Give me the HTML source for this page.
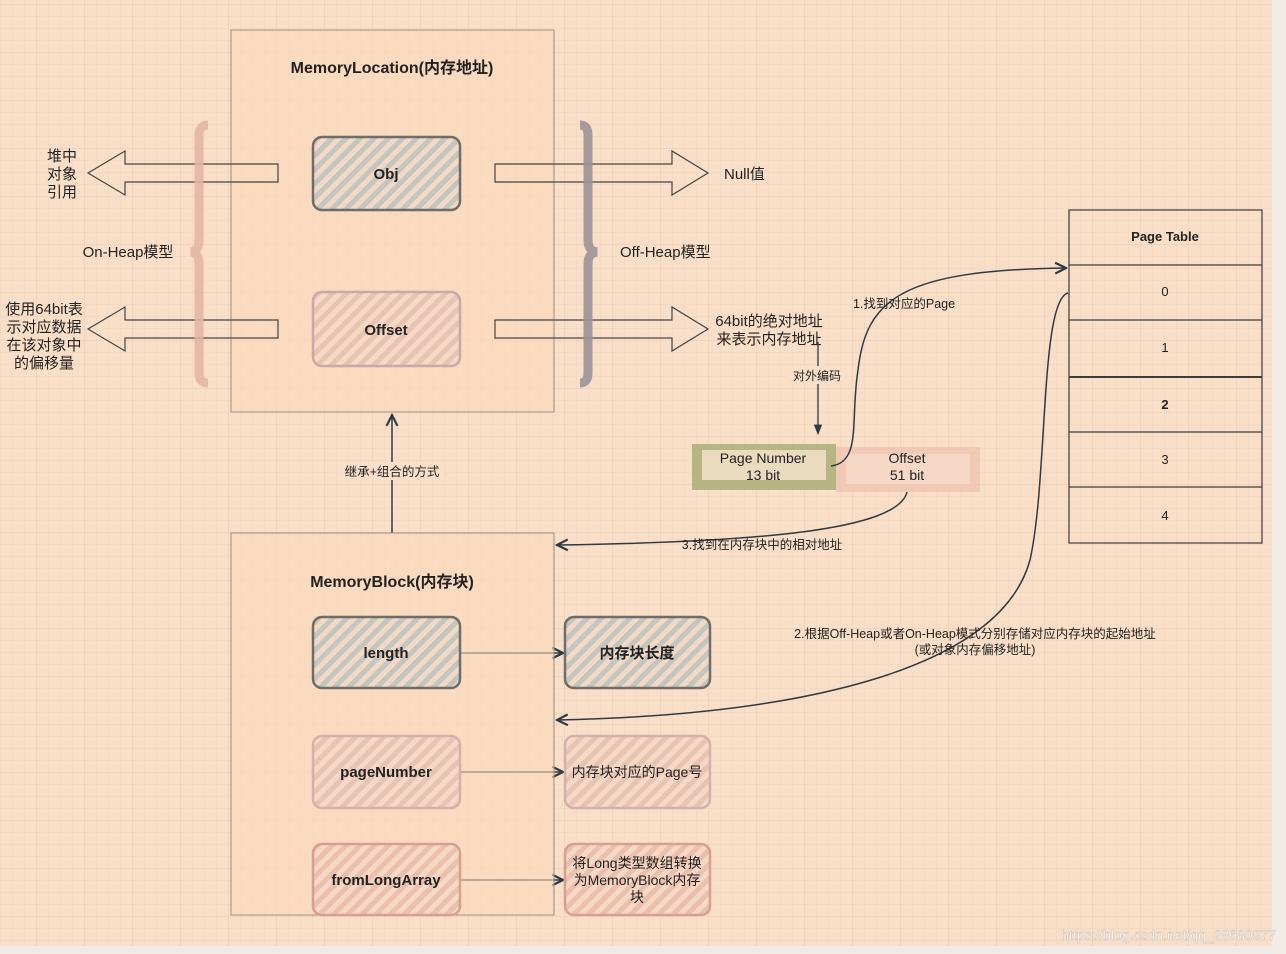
<!DOCTYPE html>
<html><head><meta charset="utf-8"><style>
html,body{margin:0;padding:0;background:#f9dfc7;}
svg{display:block;font-family:"Liberation Sans","Noto Sans CJK SC",sans-serif;}
</style></head><body>
<svg width="1286" height="954" viewBox="0 0 1286 954" xmlns="http://www.w3.org/2000/svg">
<defs>
<pattern id="minor" width="12" height="12" patternUnits="userSpaceOnUse" x="0" y="4">
<path d="M0 0V12M0 0H12" fill="none" stroke="#f0d5bd" stroke-width="1"/>
</pattern>
<pattern id="major" width="48" height="48" patternUnits="userSpaceOnUse" x="36" y="4">
<path d="M0 0V48M0 0H48" fill="none" stroke="#e6cbb1" stroke-width="1"/>
</pattern>
<pattern id="hb" width="10" height="10" patternUnits="userSpaceOnUse" patternTransform="rotate(45)">
<rect width="10" height="10" fill="#f3d9c3"/><rect width="5" height="10" fill="#c2c5c0"/>
</pattern>
<pattern id="hp" width="10" height="10" patternUnits="userSpaceOnUse" patternTransform="rotate(45)">
<rect width="10" height="10" fill="#f5d9c4"/><rect width="5" height="10" fill="#e7c3b3"/>
</pattern>
<pattern id="hr" width="10" height="10" patternUnits="userSpaceOnUse" patternTransform="rotate(45)">
<rect width="10" height="10" fill="#f5d9c4"/><rect width="5" height="10" fill="#ebbfae"/>
</pattern>
<marker id="ar" viewBox="0 0 10 10" refX="9" refY="5" markerWidth="9" markerHeight="9" orient="auto-start-reverse">
<path d="M1 1L9 5L1 9" fill="none" stroke="#2d3a44" stroke-width="1.6"/>
</marker>
<marker id="af" viewBox="0 0 10 10" refX="9" refY="5" markerWidth="8" markerHeight="8" orient="auto">
<path d="M0 1L10 5L0 9Z" fill="#2d3a44"/>
</marker>
</defs>
<rect width="1286" height="954" fill="#f9dfc7"/>
<rect width="1286" height="954" fill="url(#minor)"/>
<rect width="1286" height="954" fill="url(#major)"/>
<rect x="1272" y="0" width="14" height="954" fill="#f1ece8"/>
<rect x="0" y="946" width="1286" height="8" fill="#f1ece8"/>

<!-- MemoryLocation -->
<rect x="231" y="30" width="323" height="382" fill="#fad8bb" fill-opacity="0.6" stroke="#9a8f86" stroke-width="1"/>
<text x="392" y="73" text-anchor="middle" font-size="16" font-weight="bold" fill="#222">MemoryLocation(内存地址)</text>
<rect x="313" y="137" width="147" height="73" rx="9" fill="url(#hb)" stroke="#6d6d69" stroke-width="2.5"/>
<text x="386" y="179" text-anchor="middle" font-size="15" font-weight="bold" fill="#222">Obj</text>
<rect x="313" y="292" width="147" height="74" rx="9" fill="url(#hp)" stroke="#c9a9a6" stroke-width="2.5"/>
<text x="386" y="335" text-anchor="middle" font-size="15" font-weight="bold" fill="#222">Offset</text>

<!-- hollow arrows -->
<g fill="none" stroke="#444" stroke-width="1.2">
<path d="M278 164H125V151L88 173L125 195V182H278Z"/>
<path d="M278 320H125V307L88 329L125 351V338H278Z"/>
<path d="M495 164H672V151L708 173L672 195V182H495Z"/>
<path d="M495 320H672V307L708 329L672 351V338H495Z"/>
</g>
<!-- braces -->
<path d="M208 125Q199 125 199 135V240Q199 251 191 252Q199 253 199 264V373Q199 383 208 383" fill="none" stroke="#e3b4a2" stroke-width="9" stroke-opacity="0.85"/>
<path d="M580 125Q588 125 588 135V240Q588 251 597 252Q588 253 588 264V373Q588 383 580 383" fill="none" stroke="#9b9498" stroke-width="9" stroke-opacity="0.9"/>

<g font-size="15" fill="#222">
<text x="62" y="161" text-anchor="middle">堆中</text>
<text x="62" y="179" text-anchor="middle">对象</text>
<text x="62" y="197" text-anchor="middle">引用</text>
<text x="128" y="257" text-anchor="middle">On-Heap模型</text>
<text x="44" y="314" text-anchor="middle">使用64bit表</text>
<text x="44" y="332" text-anchor="middle">示对应数据</text>
<text x="44" y="350" text-anchor="middle">在该对象中</text>
<text x="44" y="368" text-anchor="middle">的偏移量</text>
<text x="724" y="179">Null值</text>
<text x="620" y="257">Off-Heap模型</text>
<text x="769" y="326" text-anchor="middle">64bit的绝对地址</text>
<text x="769" y="344" text-anchor="middle">来表示内存地址</text>
</g>

<!-- encoding arrow -->
<line x1="818" y1="342" x2="818" y2="434" stroke="#2d3a44" stroke-width="1.3" marker-end="url(#af)"/>
<rect x="788" y="366" width="58" height="18" fill="#f9dfc7"/>
<text x="817" y="380" text-anchor="middle" font-size="12" fill="#222">对外编码</text>

<!-- Page number / offset -->
<rect x="836" y="447" width="144" height="45" fill="#f1c6b3" opacity="0.9"/>
<rect x="846" y="454" width="124" height="30" fill="#f6d8c6"/>
<rect x="692" y="444" width="144" height="46" fill="#b6b584"/>
<rect x="702" y="450" width="124" height="30" fill="#eadbbf"/>
<g font-size="14" fill="#222" text-anchor="middle">
<text x="763" y="463">Page Number</text><text x="763" y="480">13 bit</text>
<text x="907" y="463">Offset</text><text x="907" y="480">51 bit</text>
</g>

<!-- page table -->
<g fill="none" stroke="#3c3c3c" stroke-width="1.2">
<rect x="1069" y="210" width="193" height="333"/>
<line x1="1069" y1="265" x2="1262" y2="265"/>
<line x1="1069" y1="320" x2="1262" y2="320"/>
<line x1="1069" y1="377" x2="1262" y2="377" stroke-width="2"/>
<line x1="1069" y1="432" x2="1262" y2="432"/>
<line x1="1069" y1="487" x2="1262" y2="487"/>
</g>
<g font-size="13" fill="#222" text-anchor="middle">
<text x="1165" y="241" font-weight="bold">Page Table</text>
<text x="1165" y="296">0</text><text x="1165" y="352">1</text>
<text x="1165" y="409" font-weight="bold">2</text><text x="1165" y="464">3</text><text x="1165" y="520">4</text>
</g>

<!-- curves -->
<g fill="none" stroke="#2d3a44" stroke-width="1.5">
<path d="M831 466C862 462 850 420 858 370C866 300 900 270 1066 268" marker-end="url(#ar)"/>
<path d="M1068 293C1040 300 1048 480 1030 560C1000 670 800 715 557 720" marker-end="url(#ar)"/>
<path d="M907 492C898 530 760 542 557 545" marker-end="url(#ar)"/>
<path d="M392 533V415" marker-end="url(#ar)"/>
<path d="M460 653H563" marker-end="url(#ar)"/>
<path d="M460 772H563" marker-end="url(#ar)"/>
<path d="M460 880H563" marker-end="url(#ar)"/>
</g>
<g font-size="12.5" fill="#222">
<text x="904" y="308" text-anchor="middle">1.找到对应的Page</text>
<rect x="340" y="462" width="104" height="18" fill="#f9dfc7"/>
<text x="392" y="476" text-anchor="middle">继承+组合的方式</text>
<text x="762" y="549" text-anchor="middle">3.找到在内存块中的相对地址</text>
<text x="975" y="638" text-anchor="middle">2.根据Off-Heap或者On-Heap模式分别存储对应内存块的起始地址</text>
<text x="975" y="654" text-anchor="middle">(或对象内存偏移地址)</text>
</g>

<!-- MemoryBlock -->
<rect x="231" y="533" width="323" height="382" fill="#fad8bb" fill-opacity="0.6" stroke="#9a8f86" stroke-width="1"/>
<text x="392" y="587" text-anchor="middle" font-size="16" font-weight="bold" fill="#222">MemoryBlock(内存块)</text>
<rect x="313" y="617" width="147" height="71" rx="9" fill="url(#hb)" stroke="#6d6d69" stroke-width="2.5"/>
<text x="386" y="658" text-anchor="middle" font-size="15" font-weight="bold" fill="#222">length</text>
<rect x="565" y="617" width="145" height="71" rx="9" fill="url(#hb)" stroke="#6d6d69" stroke-width="2.5"/>
<text x="637" y="658" text-anchor="middle" font-size="15" font-weight="bold" fill="#222">内存块长度</text>
<rect x="313" y="736" width="147" height="72" rx="9" fill="url(#hp)" stroke="#d4b0aa" stroke-width="2.5"/>
<text x="386" y="777" text-anchor="middle" font-size="15" font-weight="bold" fill="#222">pageNumber</text>
<rect x="565" y="736" width="145" height="72" rx="9" fill="url(#hp)" stroke="#d4b0aa" stroke-width="2.5"/>
<text x="637" y="777" text-anchor="middle" font-size="14" fill="#222">内存块对应的Page号</text>
<rect x="313" y="844" width="147" height="71" rx="9" fill="url(#hr)" stroke="#d79f90" stroke-width="2.5"/>
<text x="386" y="885" text-anchor="middle" font-size="15" font-weight="bold" fill="#222">fromLongArray</text>
<rect x="565" y="844" width="145" height="71" rx="9" fill="url(#hr)" stroke="#d79f90" stroke-width="2.5"/>
<g font-size="14" fill="#222" text-anchor="middle">
<text x="637" y="868">将Long类型数组转换</text>
<text x="637" y="885">为MemoryBlock内存</text>
<text x="637" y="902">块</text>
</g>
<text x="1276" y="940" text-anchor="end" font-size="14" fill="#ffffff" stroke="#bbb" stroke-width="0.4">https://blog.csdn.net/qq_28680977</text>
</svg>
</body></html>
